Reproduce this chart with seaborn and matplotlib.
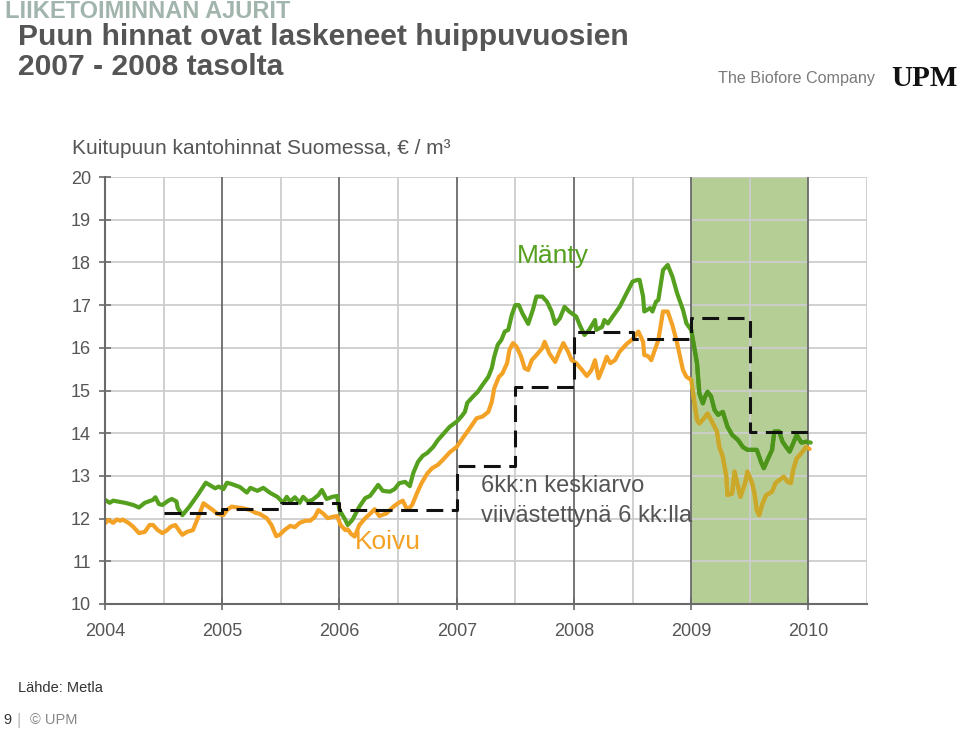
import numpy as np
import pandas as pd
import matplotlib
matplotlib.use("Agg")
import matplotlib.pyplot as plt
import matplotlib.patches as patches
import seaborn as sns

# Manty (pine) stumpage price, decimal year / EUR per m3
manty_t = [2004.00, 2004.04, 2004.07, 2004.17, 2004.24, 2004.29, 2004.34, 2004.41, 2004.43, 2004.46,
           2004.49, 2004.54, 2004.57, 2004.61, 2004.62, 2004.66, 2004.72, 2004.79, 2004.86, 2004.91,
           2004.94, 2004.97, 2005.01, 2005.04, 2005.08, 2005.15, 2005.21, 2005.24, 2005.30, 2005.35,
           2005.41, 2005.47, 2005.52, 2005.55, 2005.58, 2005.62, 2005.66, 2005.69, 2005.73, 2005.77,
           2005.82, 2005.85, 2005.89, 2005.94, 2005.98, 2006.00, 2006.05, 2006.07, 2006.11, 2006.17,
           2006.22, 2006.26, 2006.28, 2006.33, 2006.37, 2006.43, 2006.47, 2006.51, 2006.56, 2006.60,
           2006.63, 2006.67, 2006.71, 2006.75, 2006.80, 2006.84, 2006.94, 2007.00, 2007.04, 2007.07,
           2007.09, 2007.14, 2007.18, 2007.22, 2007.27, 2007.30, 2007.32, 2007.35, 2007.38, 2007.41,
           2007.44, 2007.47, 2007.50, 2007.53, 2007.56, 2007.61, 2007.65, 2007.68, 2007.73, 2007.77,
           2007.81, 2007.84, 2007.88, 2007.92, 2007.96, 2008.02, 2008.05, 2008.09, 2008.13, 2008.18,
           2008.19, 2008.24, 2008.26, 2008.29, 2008.33, 2008.39, 2008.45, 2008.50, 2008.54, 2008.56,
           2008.59, 2008.60, 2008.65, 2008.67, 2008.70, 2008.72, 2008.76, 2008.80, 2008.84, 2008.88,
           2008.93, 2008.96, 2009.00, 2009.02, 2009.05, 2009.07, 2009.10, 2009.12, 2009.14, 2009.17,
           2009.20, 2009.23, 2009.27, 2009.31, 2009.35, 2009.40, 2009.44, 2009.48, 2009.52, 2009.56,
           2009.60, 2009.62, 2009.65, 2009.69, 2009.71, 2009.75, 2009.78, 2009.81, 2009.84, 2009.87,
           2009.90, 2009.94, 2009.98, 2010.02]
manty_v = [12.44, 12.37, 12.42, 12.37, 12.32, 12.26, 12.37, 12.44, 12.50, 12.34,
           12.32, 12.42, 12.46, 12.40, 12.25, 12.08, 12.28, 12.55, 12.84, 12.76,
           12.71, 12.75, 12.69, 12.84, 12.81, 12.74, 12.61, 12.72, 12.65, 12.72,
           12.60, 12.51, 12.37, 12.51, 12.40, 12.50, 12.37, 12.51, 12.40, 12.44,
           12.55, 12.67, 12.46, 12.51, 12.53, 12.20, 11.97, 11.85, 11.97, 12.28,
           12.48, 12.53, 12.60, 12.79, 12.65, 12.63, 12.69, 12.83, 12.86, 12.76,
           13.07, 13.33, 13.47, 13.54, 13.68, 13.84, 14.15, 14.27, 14.39, 14.50,
           14.71, 14.86, 14.97, 15.13, 15.32, 15.53, 15.79, 16.07, 16.18, 16.38,
           16.42, 16.77, 17.00, 17.00, 16.81, 16.56, 16.89, 17.20, 17.20, 17.08,
           16.85, 16.56, 16.69, 16.96, 16.85, 16.73, 16.53, 16.30, 16.42, 16.65,
           16.42, 16.49, 16.65, 16.57, 16.73, 16.96, 17.28, 17.55, 17.59, 17.59,
           17.20, 16.85, 16.93, 16.85, 17.08, 17.12, 17.82, 17.94, 17.67, 17.28,
           16.89, 16.57, 16.42, 16.11, 15.64, 14.93, 14.70, 14.86, 14.97, 14.86,
           14.54, 14.43, 14.50, 14.15, 13.96, 13.84, 13.68, 13.61, 13.61, 13.61,
           13.30, 13.18, 13.37, 13.61, 14.04, 14.04, 13.80, 13.68, 13.57, 13.76,
           13.96, 13.78, 13.80, 13.78]

# Koivu (birch)
koivu_t = [2004.00, 2004.03, 2004.07, 2004.10, 2004.13, 2004.15, 2004.20, 2004.24, 2004.29, 2004.34,
           2004.38, 2004.41, 2004.45, 2004.49, 2004.53, 2004.56, 2004.60, 2004.64, 2004.66, 2004.70,
           2004.75, 2004.78, 2004.81, 2004.84, 2004.88, 2004.92, 2004.96, 2005.01, 2005.04, 2005.08,
           2005.13, 2005.18, 2005.24, 2005.28, 2005.32, 2005.38, 2005.42, 2005.46, 2005.49, 2005.53,
           2005.58, 2005.62, 2005.66, 2005.71, 2005.75, 2005.79, 2005.82, 2005.86, 2005.90, 2005.94,
           2005.98, 2006.01, 2006.05, 2006.07, 2006.10, 2006.13, 2006.17, 2006.22, 2006.26, 2006.30,
           2006.34, 2006.40, 2006.46, 2006.50, 2006.54, 2006.58, 2006.62, 2006.66, 2006.70, 2006.75,
           2006.79, 2006.84, 2006.88, 2006.94, 2007.00, 2007.05, 2007.11, 2007.17, 2007.22, 2007.27,
           2007.30, 2007.32, 2007.36, 2007.39, 2007.43, 2007.45, 2007.48, 2007.51, 2007.55, 2007.58,
           2007.61, 2007.64, 2007.68, 2007.73, 2007.75, 2007.79, 2007.84, 2007.87, 2007.91, 2007.95,
           2007.98, 2008.02, 2008.07, 2008.11, 2008.15, 2008.18, 2008.21, 2008.25, 2008.28, 2008.31,
           2008.35, 2008.39, 2008.45, 2008.50, 2008.55, 2008.59, 2008.60, 2008.63, 2008.66, 2008.69,
           2008.72, 2008.76, 2008.80, 2008.84, 2008.88, 2008.93, 2008.96, 2009.00, 2009.02, 2009.05,
           2009.07, 2009.11, 2009.14, 2009.17, 2009.22, 2009.24, 2009.27, 2009.30, 2009.31, 2009.35,
           2009.37, 2009.40, 2009.42, 2009.46, 2009.48, 2009.52, 2009.54, 2009.56, 2009.58, 2009.61,
           2009.64, 2009.69, 2009.72, 2009.75, 2009.79, 2009.82, 2009.85, 2009.87, 2009.90, 2009.94,
           2009.98, 2010.01]
koivu_v = [11.89, 11.97, 11.90, 11.98, 11.95, 11.98, 11.90, 11.81, 11.66, 11.69,
           11.85, 11.85, 11.73, 11.66, 11.73, 11.81, 11.85, 11.69, 11.62, 11.69,
           11.73, 11.93, 12.14, 12.36, 12.28, 12.20, 12.11, 12.08, 12.20, 12.28,
           12.26, 12.24, 12.20, 12.14, 12.11, 12.01, 11.85, 11.59, 11.62, 11.73,
           11.83, 11.80, 11.90, 11.95, 11.95, 12.04, 12.20, 12.12, 12.01, 12.04,
           12.06, 11.85, 11.73, 11.75, 11.64, 11.58, 11.85, 12.01, 12.11, 12.22,
           12.06, 12.12, 12.28, 12.36, 12.42, 12.20, 12.32, 12.59, 12.83, 13.06,
           13.18, 13.26, 13.37, 13.55, 13.68, 13.88, 14.11, 14.35, 14.39, 14.50,
           14.74, 15.05, 15.32, 15.40, 15.64, 15.95, 16.11, 16.03, 15.79, 15.52,
           15.48, 15.71, 15.83, 15.99, 16.14, 15.87, 15.67, 15.87, 16.11, 15.91,
           15.71, 15.64, 15.48, 15.34, 15.48, 15.71, 15.29, 15.56, 15.79, 15.64,
           15.71, 15.91, 16.09, 16.20, 16.38, 16.14, 15.83, 15.81, 15.71, 15.95,
           16.18, 16.85, 16.85, 16.53, 16.11, 15.48, 15.32, 15.25, 14.86, 14.31,
           14.23, 14.35, 14.46, 14.31, 14.04, 13.68, 13.45, 12.98, 12.55, 12.59,
           13.10, 12.75, 12.51, 12.83, 13.10, 12.83, 12.59, 12.20, 12.08, 12.36,
           12.55, 12.63, 12.83, 12.90, 12.98, 12.87, 12.83, 13.14, 13.41, 13.53,
           13.68, 13.63]

# 6 month average, lagged 6 months (step line)
avg_t = [2004.5, 2005.0, 2005.5, 2006.0, 2006.5, 2007.0, 2007.5, 2008.0, 2008.5, 2009.0, 2009.5, 2010.0]
avg_v = [12.12, 12.22, 12.37, 12.20, 12.19, 13.23, 15.08, 16.36, 16.20, 16.69, 14.03, 14.03]

year_ticks = [2004, 2005, 2006, 2007, 2008, 2009, 2010]
y_ticks = [10, 11, 12, 13, 14, 15, 16, 17, 18, 19, 20]

manty_df = pd.DataFrame({'t': manty_t, 'v': manty_v})
koivu_df = pd.DataFrame({'t': koivu_t, 'v': koivu_v})
avg_df = pd.DataFrame({'t': avg_t, 'v': avg_v})

sns.set_theme(style="white")
plt.rcParams['font.family'] = ['Liberation Sans', 'DejaVu Sans']

GREEN = '#55a01e'
ORANGE = '#f4a226'
GREY_TXT = '#555555'

fig = plt.figure(figsize=(9.6, 7.32), dpi=100)
ax = fig.add_axes([105 / 960, 1 - 604 / 732, (867 - 105) / 960, (604 - 177) / 732])

# highlighted year 2009
ax.axvspan(2009, 2010, color='#b5ce96', zorder=0.3, lw=0)

# grid: light horizontal, light half-year, dark year lines
for y in y_ticks[1:]:
    ax.axhline(y, color='#cdcdcd', lw=1.3, zorder=0.5)
for x in np.arange(2004.5, 2010.6, 1.0):
    ax.axvline(x, color='#cdcdcd', lw=1.3, zorder=0.5)
for x in year_ticks[1:]:
    ax.axvline(x, color='#6a6a6a', lw=1.3, zorder=0.6)

sns.lineplot(data=koivu_df, x='t', y='v', ax=ax, color=ORANGE, lw=3.0,
             estimator=None, sort=False, zorder=2)
sns.lineplot(data=manty_df, x='t', y='v', ax=ax, color=GREEN, lw=3.0,
             estimator=None, sort=False, zorder=2.1)

# redraw lines inside the 2009 box with tinted colours
clip = patches.Rectangle((2009, 10), 1.0, 10, transform=ax.transData)
sns.lineplot(data=koivu_df, x='t', y='v', ax=ax, color='#c9a82a', lw=3.0,
             estimator=None, sort=False, zorder=2.2)
ax.lines[-1].set_clip_path(clip)
sns.lineplot(data=manty_df, x='t', y='v', ax=ax, color='#4c951a', lw=3.0,
             estimator=None, sort=False, zorder=2.3)
ax.lines[-1].set_clip_path(clip)

sns.lineplot(data=avg_df, x='t', y='v', ax=ax, color='#111111', lw=2.2,
             estimator=None, sort=False, drawstyle='steps-post',
             linestyle=(0, (5.5, 2.8)), zorder=2.5)

ax.set_xlim(2004, 2010.5)
ax.set_ylim(10, 20)
ax.set_xticks(year_ticks)
ax.set_xticklabels([str(y) for y in year_ticks])
ax.set_yticks(y_ticks)
ax.set_xlabel('')
ax.set_ylabel('')

for side in ['top', 'right']:
    ax.spines[side].set_visible(False)
for side in ['left', 'bottom']:
    ax.spines[side].set_color('#6a6a6a')
    ax.spines[side].set_linewidth(1.5)
    ax.spines[side].set_zorder(3)

ax.tick_params(axis='both', direction='inout', length=8, width=1.2, color='#6a6a6a',
               labelsize=13, labelcolor=GREY_TXT)
ax.tick_params(axis='x', pad=10)
ax.tick_params(axis='y', pad=6)
ax.tick_params(left=True, bottom=True)

# series labels
ax.text(2007.51, 18.15, 'Mänty', color=GREEN, fontsize=19, va='center', ha='left')
ax.text(2006.13, 11.45, 'Koivu', color=ORANGE, fontsize=19, va='center', ha='left')
ax.text(2007.21, 12.76, '6kk:n keskiarvo', color=GREY_TXT, fontsize=17, va='center', ha='left', zorder=4)
ax.text(2007.21, 12.06, 'viivästettynä 6 kk:lla', color=GREY_TXT, fontsize=17, va='center', ha='left', zorder=4)

# header texts
fig.text(5 / 960, 1 - 18 / 732, 'LIIKETOIMINNAN AJURIT', color='#a2b5ad', fontsize=17,
         fontweight='bold', va='baseline', ha='left')
fig.text(18 / 960, 1 - 45 / 732, 'Puun hinnat ovat laskeneet huippuvuosien', color=GREY_TXT,
         fontsize=21.6, fontweight='bold', va='baseline', ha='left')
fig.text(18 / 960, 1 - 75 / 732, '2007 - 2008 tasolta', color=GREY_TXT,
         fontsize=21.6, fontweight='bold', va='baseline', ha='left')
fig.text(72 / 960, 1 - 148 / 732, 'Kuitupuun kantohinnat Suomessa, € / m³', color=GREY_TXT,
         fontsize=15, va='center', ha='left')

# logo texts
fig.text(718 / 960, 1 - 78 / 732, 'The Biofore Company', color='#7a7a7a', fontsize=11.6,
         va='center', ha='left')
fig.text(924 / 960, 1 - 78 / 732, 'UPM', color='#111111', fontsize=21, fontweight='bold',
         family=['Liberation Serif', 'DejaVu Serif'], va='center', ha='center')

# footer
fig.text(18 / 960, 1 - 688 / 732, 'Lähde: Metla', color='#333333', fontsize=10.5, va='center', ha='left')
fig.text(3 / 960, 1 - 720 / 732, '9', color='#333333', fontsize=10.5, va='center', ha='left')
fig.text(17 / 960, 1 - 720 / 732, '|', color='#bbbbbb', fontsize=12, va='center', ha='left')
fig.text(30 / 960, 1 - 720 / 732, '© UPM', color='#888888', fontsize=10.5, va='center', ha='left')

fig.savefig('out.png', dpi=100)
